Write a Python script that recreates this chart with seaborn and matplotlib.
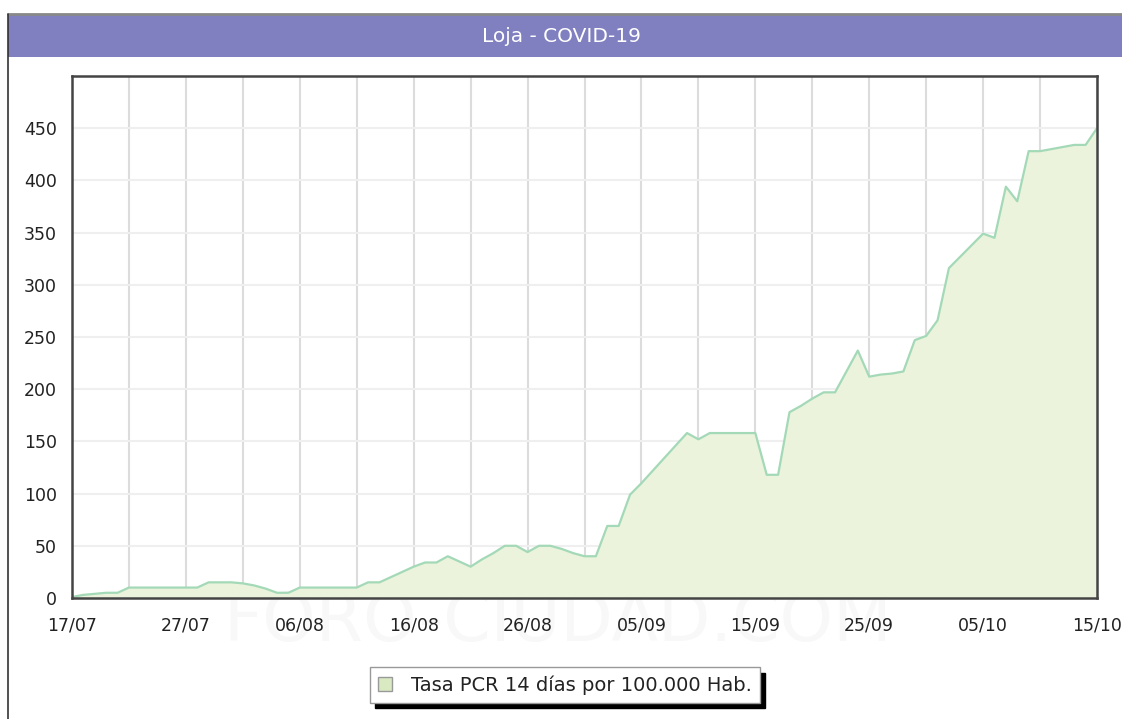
import numpy as np
import pandas as pd
import matplotlib
matplotlib.use('Agg')
import matplotlib.pyplot as plt
from matplotlib.patches import Rectangle, Patch
from matplotlib.lines import Line2D
import matplotlib.dates as mdates
import seaborn as sns

# Tasa PCR 14 dias por 100.000 hab., Loja, one value per day from 17/07 to 15/10
start_date = '2020-07-17'
rate = [1, 3, 4, 5, 5, 10, 10, 10, 10, 10,
        10, 10, 15, 15, 15, 14, 12, 9, 5, 5,
        10, 10, 10, 10, 10, 10, 15, 15, 20, 25,
        30, 34, 34, 40, 35, 30, 37, 43, 50, 50,
        44, 50, 50, 47, 43, 40, 40, 69, 69, 99,
        110, 122, 134, 146, 158, 152, 158, 158, 158, 158,
        158, 118, 118, 178, 184, 191, 197, 197, 217, 237,
        212, 214, 215, 217, 247, 251, 266, 316, 327, 338,
        349, 345, 394, 380, 428, 428, 430, 432, 434, 434,
        450]
y_ticks = [0, 50, 100, 150, 200, 250, 300, 350, 400, 450]
title = 'Loja - COVID-19'
series_label = 'Tasa PCR 14 días por 100.000 Hab.'

dates = pd.date_range(start_date, periods=len(rate), freq='D')
df = pd.DataFrame({'fecha': dates, 'tasa': rate})

sns.set_style('white')
plt.rcParams['font.family'] = ['DejaVu Sans']

fig = plt.figure(figsize=(11.22, 7.19), dpi=100)
fig.patch.set_facecolor('white')

# header bar and outer frame
fig.patches.append(Rectangle((8 / 1122, 1 - 57 / 719), 1, 42 / 719, transform=fig.transFigure,
                             facecolor='#8080c0', edgecolor='none', zorder=0))
fig.add_artist(Line2D([8 / 1122, 1], [1 - 14 / 719, 1 - 14 / 719], transform=fig.transFigure,
                      color='#888888', lw=2))
fig.add_artist(Line2D([8 / 1122, 8 / 1122], [0, 1 - 14 / 719], transform=fig.transFigure,
                      color='#333333', lw=1.2))
fig.text(0.5, 1 - 36 / 719, title, color='white', fontsize=14.5, ha='center', va='center')

# faint watermark, behind everything
fig.text(0.497, 1 - 622 / 719, 'FORO-CIUDAD.COM', color='#f8f8f8', fontsize=49,
         ha='center', va='center', zorder=-5)

ax = fig.add_axes([72 / 1122, 1 - 598 / 719, 1025 / 1122, 522 / 719])
ax.patch.set_alpha(0)

ax.fill_between(df['fecha'], df['tasa'], 0, color='#ebf3dd', lw=0, zorder=2)
sns.lineplot(data=df, x='fecha', y='tasa', ax=ax, color='#a3d9b6', lw=1.6, zorder=3)

ax.set_xlim(dates[0], dates[-1])
ax.set_ylim(0, 500)
ax.set_yticks(y_ticks)
ax.set_xticks(dates[::10])
ax.set_xticks(dates[5::10], minor=True)
ax.xaxis.set_major_formatter(mdates.DateFormatter('%d/%m'))
ax.grid(True, axis='x', which='both', color='#dcdcdc', lw=1.5, zorder=1)
ax.grid(True, axis='y', color='#efefef', lw=1.5, zorder=1)
ax.set_axisbelow(True)
ax.tick_params(axis='both', which='both', length=0, labelsize=12.5, colors='#222222')
ax.tick_params(axis='y', pad=11)
ax.tick_params(axis='x', pad=13)
ax.set_xlabel('')
ax.set_ylabel('')
for s in ax.spines.values():
    s.set_color('#444444')
    s.set_linewidth(1.8)
    s.set_zorder(4)

handle = Patch(facecolor='#d9e9c2', edgecolor='#999999', lw=1)
leg = fig.legend([handle], [series_label], loc='center', bbox_to_anchor=(565 / 1122, 1 - 685 / 719),
                 fontsize=14, frameon=True, fancybox=False,
                 shadow={'ox': 3.5, 'oy': -4.2, 'color': 'black', 'alpha': 1},
                 handlelength=0.7, handleheight=0.7, handletextpad=1.0,
                 borderpad=0.4, borderaxespad=0)
leg.get_frame().set_edgecolor('#999999')
leg.get_frame().set_linewidth(1)
for t in leg.get_texts():
    t.set_color('#222222')

fig.savefig('out.png', dpi=100)
